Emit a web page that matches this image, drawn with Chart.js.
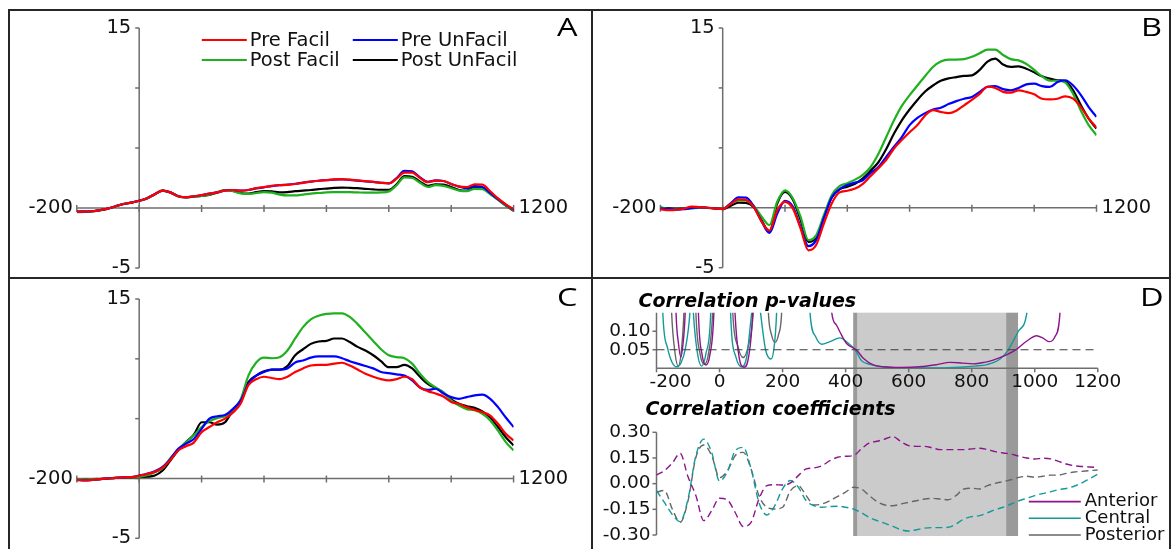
<!DOCTYPE html>
<html><head><meta charset="utf-8">
<script src="https://cdn.jsdelivr.net/npm/chart.js@4.4.1/dist/chart.umd.min.js"></script>
<style>
html,body{margin:0;padding:0;background:#fff;width:1171px;height:549px;overflow:hidden;position:relative;}
.frame{position:absolute;background:#262626;}
canvas{position:absolute;}
.letter{position:absolute;font-family:"Open Sans","DejaVu Sans",sans-serif;font-weight:400;font-size:25px;line-height:25px;color:#000;transform:scaleX(1.3);transform-origin:left top;}
</style></head><body>
<div class="frame" style="left:8px;top:9px;width:1163px;height:2px"></div>
<div class="frame" style="left:8px;top:9px;width:2px;height:545px"></div>
<div class="frame" style="left:1169px;top:9px;width:2px;height:545px"></div>
<div class="frame" style="left:591px;top:9px;width:2px;height:545px"></div>
<div class="frame" style="left:8px;top:277px;width:1163px;height:2px"></div>
<canvas id="cA"></canvas><canvas id="cB"></canvas><canvas id="cC"></canvas>
<canvas id="cDr" style="z-index:1"></canvas><canvas id="cDp" style="z-index:2"></canvas>
<div class="letter" style="left:557px;top:14px">A</div>
<div class="letter" style="left:1141px;top:14px">B</div>
<div class="letter" style="left:557px;top:284px">C</div>
<div class="letter" style="left:1140px;top:284px">D</div>
<script>
// ---------- shared time axis (ms) ----------
const times = [-200,-175,-150,-125,-100,-75,-50,-25,0,25,50,75,100,125,150,175,200,225,250,275,300,325,350,375,400,425,450,475,500,525,550,575,600,625,650,675,700,725,750,775,800,825,850,875,900,925,950,975,1000,1025,1050,1075,1100,1125,1150,1175,1200];
const erpXTicks = [-200,0,200,400,600,800,1000,1200];
const erpYTicks = [-5,0,5,10,15];
const erpYLabeled = [15,-5];
const erpXLabeled = [-200,1200];
const seriesNames = ['Pre Facil','Pre UnFacil','Post Facil','Post UnFacil'];

// ---------- Panel A ----------
const aPreFacil   = [-0.3,-0.3,-0.27,-0.18,-0.05,0.15,0.33,0.45,0.6,0.82,1.15,1.45,1.3,0.98,0.9,0.98,1.08,1.2,1.3,1.45,1.5,1.45,1.5,1.65,1.75,1.85,1.9,1.93,2.0,2.1,2.2,2.27,2.32,2.38,2.4,2.36,2.3,2.24,2.18,2.1,2.05,2.45,2.95,2.95,2.5,2.15,2.28,2.25,2.0,1.8,1.75,1.98,1.95,1.4,0.8,0.3,-0.12];
const aPreUnFacil = [-0.3,-0.3,-0.27,-0.18,-0.05,0.15,0.33,0.45,0.6,0.82,1.15,1.45,1.3,0.98,0.9,0.98,1.08,1.2,1.3,1.45,1.5,1.45,1.5,1.63,1.72,1.83,1.9,1.95,2.02,2.12,2.2,2.27,2.32,2.36,2.38,2.34,2.28,2.22,2.18,2.1,2.05,2.5,3.1,3.05,2.55,2.18,2.3,2.25,2.0,1.78,1.65,1.82,1.75,1.25,0.75,0.28,-0.15];
const aPostFacil  = [-0.35,-0.32,-0.28,-0.18,-0.04,0.16,0.35,0.45,0.6,0.8,1.15,1.45,1.3,0.98,0.9,0.95,1.0,1.12,1.3,1.5,1.4,1.22,1.17,1.25,1.33,1.28,1.12,1.05,1.05,1.12,1.2,1.25,1.3,1.32,1.33,1.32,1.3,1.28,1.28,1.3,1.38,1.9,2.55,2.5,2.1,1.75,1.9,1.85,1.65,1.45,1.4,1.6,1.58,1.15,0.7,0.2,-0.2];
const aPostUnFacil= [-0.3,-0.3,-0.27,-0.18,-0.05,0.15,0.33,0.45,0.6,0.8,1.15,1.45,1.3,0.98,0.88,0.94,1.0,1.1,1.28,1.5,1.42,1.25,1.2,1.32,1.4,1.38,1.3,1.33,1.4,1.45,1.5,1.57,1.62,1.67,1.7,1.68,1.65,1.6,1.55,1.52,1.52,1.98,2.65,2.6,2.2,1.85,1.98,1.95,1.75,1.5,1.45,1.7,1.68,1.2,0.7,0.2,-0.22];

// ---------- Panel B ----------
const bPreFacil   = [-0.12,-0.2,-0.18,-0.08,0.1,0.05,0.0,-0.05,-0.1,0.3,0.7,0.65,0.05,-1.15,-1.9,-0.2,0.5,-0.05,-1.72,-3.55,-3.1,-1.3,0.36,1.28,1.42,1.6,2.0,2.65,3.3,4.0,4.95,5.65,6.3,6.9,7.7,8.15,8.0,7.9,8.1,8.55,9.0,9.5,10.1,10.0,9.67,9.6,9.8,9.67,9.47,9.1,9.05,9.1,9.3,9.1,8.4,7.44,6.7];
const bPreUnFacil = [-0.05,-0.12,-0.15,-0.12,-0.02,0.03,0.0,-0.05,-0.12,0.35,0.86,0.85,0.1,-1.15,-2.1,-0.5,0.58,0.1,-1.6,-3.2,-2.7,-0.85,0.85,1.55,1.9,2.1,2.3,2.9,3.4,4.25,5.1,5.9,6.9,7.5,7.9,8.2,8.35,8.65,8.9,9.1,9.25,9.67,10.1,10.15,9.9,9.8,10.0,10.3,10.36,10.15,10.08,10.5,10.64,10.2,9.4,8.4,7.58];
const bPostFacil  = [0.05,-0.1,-0.12,-0.08,-0.03,0.0,-0.02,-0.05,-0.1,0.35,0.6,0.6,0.15,-0.75,-1.45,0.5,1.45,0.8,-0.75,-2.7,-2.3,-0.6,1.05,1.8,2.05,2.35,2.75,3.4,4.5,5.9,7.3,8.5,9.4,10.2,11.0,11.75,12.2,12.36,12.36,12.4,12.6,12.9,13.2,13.2,12.75,12.4,12.3,12.0,11.5,10.97,10.6,10.6,10.45,9.5,8.1,6.9,6.05];
const bPostUnFacil= [-0.03,-0.05,-0.08,-0.06,-0.03,0.02,0.0,-0.05,-0.1,0.15,0.42,0.4,0.05,-1.05,-2.0,0.35,1.33,0.7,-1.0,-2.85,-2.5,-0.75,0.86,1.53,1.75,2.0,2.45,3.1,3.8,4.9,6.2,7.3,8.2,9.0,9.7,10.2,10.6,10.8,10.9,11.0,11.05,11.5,12.2,12.45,11.95,11.75,11.8,11.6,11.3,10.97,10.78,10.64,10.55,9.8,8.55,7.44,6.6];

// ---------- Panel C ----------
const cPreFacil   = [-0.1,-0.17,-0.12,-0.05,0.0,0.05,0.1,0.12,0.22,0.38,0.55,0.9,1.55,2.34,2.7,3.0,3.87,4.3,4.7,5.0,5.5,6.25,7.8,8.3,8.5,8.4,8.3,8.5,8.9,9.2,9.44,9.5,9.5,9.6,9.67,9.44,9.1,8.75,8.5,8.3,8.2,8.3,8.5,8.3,7.6,7.3,7.1,6.85,6.4,6.24,5.96,5.74,5.54,5.26,4.57,3.73,3.18];
const cPreUnFacil = [-0.1,-0.17,-0.12,-0.05,0.0,0.05,0.1,0.12,0.25,0.4,0.6,0.97,1.64,2.48,2.9,3.3,4.15,5.0,5.2,5.3,5.8,6.5,7.9,8.6,8.9,9.1,9.1,9.2,9.7,9.86,10.1,10.2,10.2,10.2,10.05,9.8,9.6,9.4,9.2,8.9,8.8,8.7,8.6,8.2,7.6,7.4,7.5,7.1,6.8,6.66,6.8,6.94,7.0,6.66,5.96,5.1,4.3];
const cPostFacil  = [-0.05,-0.1,-0.05,-0.03,0.0,0.05,0.08,0.1,0.14,0.28,0.52,0.85,1.7,2.42,3.04,3.6,4.3,4.8,5.04,5.2,5.7,6.6,8.6,9.7,10.1,10.05,10.14,10.7,11.7,12.65,13.3,13.6,13.76,13.8,13.8,13.5,12.9,12.2,11.5,10.8,10.3,10.14,10.05,9.6,8.75,8.05,7.6,7.2,6.5,6.1,5.8,5.7,5.4,4.85,4.0,3.04,2.34];
const cPostUnFacil= [-0.15,-0.1,-0.08,-0.05,0.0,0.05,0.08,0.1,0.12,0.15,0.25,0.67,1.5,2.35,3.04,3.65,4.7,4.7,4.5,4.7,5.7,6.5,8.05,8.6,8.95,9.1,9.1,9.4,10.3,10.8,11.25,11.45,11.5,11.7,11.7,11.4,11.0,10.7,10.3,9.8,9.3,9.3,9.5,9.2,8.5,7.9,7.55,7.2,6.6,6.24,6.04,5.9,5.6,5.1,4.3,3.45,2.76];

// ---------- Panel D : correlation coefficients ----------
const regionNames = ['Anterior','Central','Posterior'];
const rAnterior = [0.05,0.076,0.12,0.177,0.04,-0.07,-0.216,-0.158,-0.085,-0.095,-0.17,-0.25,-0.226,-0.09,-0.012,-0.006,-0.008,0.004,0.047,0.086,0.092,0.105,0.134,0.154,0.16,0.164,0.203,0.238,0.248,0.261,0.275,0.246,0.222,0.218,0.218,0.209,0.199,0.199,0.199,0.199,0.203,0.207,0.199,0.187,0.179,0.173,0.16,0.15,0.144,0.148,0.145,0.13,0.115,0.105,0.1,0.097,0.095];
const rCentral  = [-0.04,-0.11,-0.18,-0.222,-0.09,0.164,0.26,0.183,0.015,0.07,0.193,0.212,0.086,-0.11,-0.183,-0.13,-0.03,0.018,-0.021,-0.1,-0.129,-0.138,-0.134,-0.132,-0.138,-0.148,-0.17,-0.197,-0.216,-0.232,-0.25,-0.269,-0.277,-0.269,-0.26,-0.257,-0.257,-0.255,-0.236,-0.207,-0.193,-0.187,-0.17,-0.152,-0.138,-0.119,-0.1,-0.085,-0.07,-0.058,-0.048,-0.035,-0.028,-0.015,0.005,0.03,0.055];
const rPosterior= [-0.05,-0.04,-0.148,-0.226,-0.1,0.154,0.226,0.164,0.035,0.075,0.164,0.183,0.086,-0.07,-0.138,-0.148,-0.138,-0.041,-0.012,-0.07,-0.125,-0.119,-0.1,-0.074,-0.05,-0.021,-0.031,-0.07,-0.105,-0.125,-0.129,-0.119,-0.109,-0.1,-0.09,-0.086,-0.09,-0.094,-0.07,-0.031,-0.027,-0.031,-0.012,0.002,0.012,0.023,0.037,0.043,0.037,0.043,0.05,0.05,0.06,0.068,0.072,0.076,0.08];
const rTicks = [-0.30,-0.15,0.00,0.15,0.30];

// ---------- Panel D : correlation p-values ([ms, p]) ----------
const pAnterior = [[-200,0.9],[-150,0.6],[-138,0.15],[-130,0.065],[-123,0.03],[-116,0.065],[-109,0.15],[-95,0.6],[-80,0.7],[-67,0.15],[-55,0.035],[-43,0.009],[-31,0.035],[-18,0.15],[-5,0.6],[30,0.6],[49,0.15],[62,0.03],[78,0.003],[92,0.03],[105,0.15],[120,0.6],[250,0.9],[340,0.5],[356,0.15],[370,0.118],[382,0.098],[403,0.067],[435,0.049],[456,0.027],[488,0.009],[520,0.004],[572,0.002],[646,0.005],[690,0.01],[731,0.016],[770,0.014],[805,0.012],[840,0.016],[868,0.022],[910,0.036],[942,0.051],[974,0.073],[1006,0.088],[1025,0.082],[1045,0.072],[1064,0.085],[1080,0.15],[1095,0.45],[1200,0.9]];
const pCentral = [[-200,0.9],[-190,0.5],[-180,0.15],[-165,0.055],[-150,0.015],[-136,0.004],[-122,0.015],[-108,0.055],[-94,0.15],[-88,0.25],[-83,0.15],[-70,0.04],[-57,0.006],[-43,0.04],[-28,0.15],[-15,0.6],[25,0.6],[35,0.15],[52,0.03],[70,0.004],[86,0.03],[102,0.15],[116,0.25],[130,0.15],[146,0.05],[163,0.025],[172,0.05],[181,0.15],[192,0.5],[250,0.9],[280,0.3],[287,0.15],[305,0.085],[324,0.065],[350,0.072],[382,0.082],[405,0.07],[430,0.05],[451,0.02],[480,0.01],[509,0.005],[572,0.001],[640,0.001],[700,0.001],[763,0.003],[810,0.006],[848,0.01],[890,0.025],[916,0.05],[948,0.1],[975,0.15],[990,0.3],[1200,0.9]];
const pPosterior = [[-200,0.9],[-165,0.5],[-152,0.15],[-141,0.04],[-131,0.006],[-122,0.04],[-113,0.15],[-100,0.5],[-85,0.5],[-75,0.15],[-62,0.04],[-48,0.01],[-35,0.04],[-22,0.15],[-10,0.5],[30,0.5],[42,0.15],[58,0.06],[75,0.029],[91,0.06],[107,0.15],[120,0.4],[145,0.4],[155,0.15],[165,0.09],[176,0.07],[187,0.09],[197,0.15],[210,0.5],[400,0.7],[800,0.6],[1200,0.8]];
const pThreshold = 0.05;
const pTicks = [0.05,0.10];
const pXTicks = [-200,0,200,400,600,800,1000,1200];
// significance window (ms): dark edge, light core, dark edge
const bandEdges = [424,438,909,947];

// ---------- styling ----------
const FONT = '"DejaVu Sans", Verdana, sans-serif';
const AXIS = '#6e6e6e';
const erpColors = ['#ff0000','#0000ff','#1fb01f','#000000'];
const regionColors = ['#8c148c','#14999a','#666666'];

function placeCanvas(id, box){
  const c = document.getElementById(id);
  c.width = box.w; c.height = box.h;
  c.style.left = box.x+'px'; c.style.top = box.y+'px';
  c.style.width = box.w+'px'; c.style.height = box.h+'px';
  return c;
}
function padFor(box, area){
  return {left: area.x1-box.x, top: area.y1-box.y, right: box.x+box.w-area.x2, bottom: box.y+box.h-area.y2};
}
function line(ctx,x1,y1,x2,y2){ctx.beginPath();ctx.moveTo(x1,y1);ctx.lineTo(x2,y2);ctx.stroke();}

const crossAxes = {
  id:'crossAxes',
  beforeDatasetsDraw(chart){
    const {ctx} = chart, x = chart.scales.x, y = chart.scales.y;
    const x0 = x.getPixelForValue(0), y0 = y.getPixelForValue(0);
    ctx.save();
    ctx.strokeStyle = AXIS; ctx.lineWidth = 1.5;
    line(ctx, x0, y.getPixelForValue(y.min), x0, y.getPixelForValue(y.max));
    erpYTicks.forEach(v=>{const py=y.getPixelForValue(v); line(ctx,x0-4,py,x0,py);});
    line(ctx, x.getPixelForValue(x.min), y0, x.getPixelForValue(x.max), y0);
    erpXTicks.forEach(v=>{const px=x.getPixelForValue(v); line(ctx,px,y0-3,px,y0+4);});
    ctx.fillStyle = '#111'; ctx.font = '19.5px '+FONT; ctx.textBaseline='middle';
    ctx.textAlign='right';
    erpYLabeled.forEach(v=>ctx.fillText(String(v), x0-8, y.getPixelForValue(v)));
    ctx.fillText(String(erpXLabeled[0]), x.getPixelForValue(erpXLabeled[0])-4, y0);
    ctx.textAlign='left';
    ctx.fillText(String(erpXLabeled[1]), x.getPixelForValue(erpXLabeled[1])+5, y0);
    ctx.restore();
  }
};
const erpLegend = {
  id:'erpLegend',
  afterDraw(chart){
    const {ctx} = chart, a = chart.chartArea;
    ctx.save(); ctx.font = '19.5px '+FONT; ctx.textBaseline='middle'; ctx.textAlign='left';
    chart.data.datasets.forEach((ds,i)=>{
      const col = i%2, row = Math.floor(i/2);
      const lx = a.left + 125 + col*151, ly = a.top + 12 + row*20;
      ctx.strokeStyle = ds.borderColor; ctx.lineWidth = 1.8;
      line(ctx, lx, ly, lx+45, ly);
      ctx.fillStyle = '#111'; ctx.fillText(ds.label, lx+48, ly+1);
    });
    ctx.restore();
  }
};

function erpChart(id, box, area, arrays, withLegend){
  const cv = placeCanvas(id, box);
  return new Chart(cv, {
    type:'line',
    data:{datasets: arrays.map((arr,i)=>({
      label: seriesNames[i],
      data: arr.map((v,k)=>({x: times[k], y: v})),
      borderColor: erpColors[i], borderWidth: 2.2, pointRadius: 0,
      cubicInterpolationMode:'monotone', fill:false
    }))},
    options:{
      responsive:false, animation:false, devicePixelRatio:1, events:[],
      layout:{padding: padFor(box, area)},
      scales:{x:{type:'linear', min:-200, max:1200, display:false}, y:{type:'linear', min:-5, max:15, display:false}},
      plugins:{legend:{display:false}, tooltip:{enabled:false}}
    },
    plugins: withLegend ? [crossAxes, erpLegend] : [crossAxes]
  });
}

erpChart('cA', {x:10,y:11,w:581,h:266}, {x1:76.8,y1:28,x2:513.6,y2:268}, [aPreFacil,aPreUnFacil,aPostFacil,aPostUnFacil], true);
erpChart('cB', {x:594,y:11,w:575,h:266}, {x1:660.4,y1:28,x2:1096.5,y2:267.7}, [bPreFacil,bPreUnFacil,bPostFacil,bPostUnFacil], false);
erpChart('cC', {x:10,y:280,w:581,h:269}, {x1:76.8,y1:299,x2:513.6,y2:538.3}, [cPreFacil,cPreUnFacil,cPostFacil,cPostUnFacil], false);

// ---------- Panel D charts ----------
const dBox = {x:594,y:280,w:575,h:269};

const pAxes = {
  id:'pAxes',
  beforeDatasetsDraw(chart){
    const {ctx} = chart, x = chart.scales.x, y = chart.scales.y;
    const xl = x.getPixelForValue(x.min), xr = x.getPixelForValue(x.max);
    const yb = y.getPixelForValue(y.min), yt = y.getPixelForValue(y.max);
    ctx.save();
    ctx.strokeStyle = AXIS; ctx.lineWidth = 1.5;
    line(ctx, xl, yt, xl, yb); line(ctx, xl, yb, xr, yb);
    ctx.fillStyle='#111'; ctx.font='18.5px '+FONT;
    ctx.textBaseline='top';
    pXTicks.forEach(v=>{
      const px = x.getPixelForValue(v); line(ctx, px, yb, px, yb+4);
      if (v===x.min){ctx.textAlign='left'; ctx.fillText(String(v), px-7, yb+5);}
      else {ctx.textAlign='center'; ctx.fillText(String(v), px, yb+5);}
    });
    ctx.textBaseline='middle'; ctx.textAlign='right';
    pTicks.forEach(v=>{const py=y.getPixelForValue(v); line(ctx, xl-4, py, xl, py); ctx.fillText(v.toFixed(2), xl-6, py);});
    ctx.restore();
  },
  afterDatasetsDraw(chart){
    const {ctx} = chart, x = chart.scales.x, y = chart.scales.y;
    const py = y.getPixelForValue(pThreshold);
    ctx.save(); ctx.strokeStyle='#3c3c3c'; ctx.lineWidth=1.2; ctx.setLineDash([8,5]);
    line(ctx, x.getPixelForValue(x.min), py, x.getPixelForValue(x.max), py);
    ctx.restore();
    ctx.save(); ctx.fillStyle='#000'; ctx.font='italic bold 19px '+FONT; ctx.textAlign='left'; ctx.textBaseline='alphabetic';
    ctx.fillText('Correlation p-values', chart.chartArea.left-18, chart.chartArea.top-6);
    ctx.restore();
  }
};

const pChart = new Chart(placeCanvas('cDp', dBox), {
  type:'line',
  data:{datasets:[pAnterior,pCentral,pPosterior].map((arr,i)=>({
    label: regionNames[i],
    data: arr.map(p=>({x:p[0], y:p[1]})),
    borderColor: regionColors[i], borderWidth: 1.4, pointRadius:0,
    cubicInterpolationMode:'monotone', fill:false, clip:0
  }))},
  options:{
    responsive:false, animation:false, devicePixelRatio:1, events:[],
    layout:{padding: padFor(dBox, {x1:656.5,y1:312.7,x2:1097.8,y2:368.3})},
    scales:{x:{type:'linear',min:-200,max:1200,display:false}, y:{type:'linear',min:0,max:0.15,display:false}},
    plugins:{legend:{display:false}, tooltip:{enabled:false}}
  },
  plugins:[pAxes]
});

const rAxes = {
  id:'rAxes',
  beforeDatasetsDraw(chart){
    const {ctx} = chart, x = chart.scales.x, y = chart.scales.y;
    const top = pChart.chartArea.top, bottom = y.getPixelForValue(y.min)+1;
    const e = bandEdges.map(v=>x.getPixelForValue(v));
    ctx.save();
    ctx.fillStyle='#9a9a9a'; ctx.fillRect(e[0], top, e[1]-e[0], bottom-top); ctx.fillRect(e[2], top, e[3]-e[2], bottom-top);
    ctx.fillStyle='#cbcbcb'; ctx.fillRect(e[1], top, e[2]-e[1], bottom-top);
    const xl = x.getPixelForValue(x.min);
    ctx.strokeStyle = AXIS; ctx.lineWidth=1.5;
    line(ctx, xl, y.getPixelForValue(y.min), xl, y.getPixelForValue(y.max));
    ctx.fillStyle='#111'; ctx.font='18.5px '+FONT; ctx.textAlign='right'; ctx.textBaseline='middle';
    rTicks.forEach(v=>{const py=y.getPixelForValue(v); line(ctx, xl-4, py, xl, py); ctx.fillText(v.toFixed(2), xl-6, py);});
    ctx.restore();
  },
  afterDraw(chart){
    const {ctx} = chart, a = chart.chartArea;
    ctx.save(); ctx.fillStyle='#000'; ctx.font='italic bold 19px '+FONT; ctx.textAlign='left'; ctx.textBaseline='alphabetic';
    ctx.fillText('Correlation coefficients', a.left-11, a.top-17);
    ctx.font='18px '+FONT; ctx.textBaseline='middle';
    chart.data.datasets.forEach((ds,i)=>{
      const ly = a.bottom - (chart.data.datasets.length-1-i)*16.7;
      ctx.strokeStyle = ds.borderColor; ctx.lineWidth=1.6; ctx.setLineDash([]);
      line(ctx, a.right-69, ly, a.right-17, ly);
      ctx.fillStyle='#111'; ctx.fillText(ds.label, a.right-13, ly);
    });
    ctx.restore();
  }
};

new Chart(placeCanvas('cDr', dBox), {
  type:'line',
  data:{datasets:[rAnterior,rCentral,rPosterior].map((arr,i)=>({
    label: regionNames[i],
    data: arr.map((v,k)=>({x: times[k], y: v})),
    borderColor: regionColors[i], borderWidth: 1.4, borderDash:[7,4], pointRadius:0,
    cubicInterpolationMode:'monotone', fill:false
  }))},
  options:{
    responsive:false, animation:false, devicePixelRatio:1, events:[],
    layout:{padding: padFor(dBox, {x1:656.5,y1:432.3,x2:1097.8,y2:535})},
    scales:{x:{type:'linear',min:-200,max:1200,display:false}, y:{type:'linear',min:-0.30,max:0.30,display:false}},
    plugins:{legend:{display:false}, tooltip:{enabled:false}}
  },
  plugins:[rAxes]
});
</script>
</body></html>
